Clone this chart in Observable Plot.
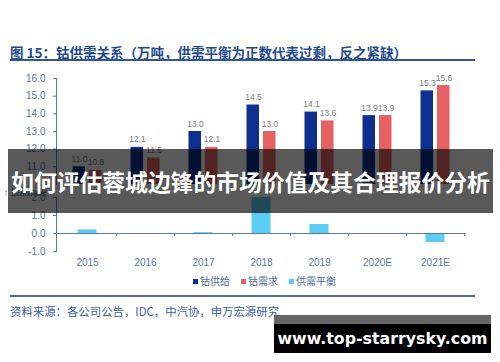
<!DOCTYPE html>
<html>
<head>
<meta charset="utf-8">
<script src="https://cdn.jsdelivr.net/npm/d3@7"></script>
<script src="https://cdn.jsdelivr.net/npm/@observablehq/plot@0.6"></script>
<style>
  html, body { margin: 0; padding: 0; background: #fff; }
  #wrap { position: relative; width: 500px; height: 362px; overflow: hidden; background: #fff;
          font-family: "Liberation Sans", "Noto Sans CJK SC", sans-serif; }
  .abs { position: absolute; }
  #title { left: 10px; top: 44px; font-family: "Noto Sans CJK SC", sans-serif; font-weight: bold;
           font-size: 13.5px; color: #1f4b8e; white-space: nowrap; line-height: 16px; }
  #rule1 { left: 10px; top: 59px; width: 465px; height: 2px; background: #2f5597; }
  #rule2 { left: 10px; top: 295px; width: 465px; height: 2px; background: #4f6b8a; }
  #source { left: 10px; top: 304px; font-family: "Noto Sans CJK SC", sans-serif; font-size: 11.4px;
            color: #3a5ca0; white-space: nowrap; line-height: 14px; }
  .leg { top: 275px; font-family: "Noto Sans CJK SC", sans-serif; font-size: 10px; color: #4d6a96;
         line-height: 12px; white-space: nowrap; display: flex; align-items: center; }
  .sw { width: 5px; height: 5px; margin-right: 2px; display: inline-block; }
  #banner { left: 8px; top: 149px; width: 485px; height: 64px; background: rgba(0,0,0,0.65);
            color: #fff; font-family: "Noto Sans CJK SC", sans-serif; font-weight: bold; font-size: 22.8px;
            display: flex; align-items: center; justify-content: center; white-space: nowrap; overflow: visible; }
  #wm1 { left: 274px; top: 315px; width: 217px; height: 10px; background: #666; }
  #wm2 { left: 274px; top: 324px; width: 217px; height: 29px; background: #000; color: #fff;
         font-family: "DejaVu Sans", sans-serif; font-weight: bold; font-size: 15.8px;
         display: flex; align-items: center; justify-content: center; white-space: nowrap; }
</style>
</head>
<body>
<div id="wrap">
  <div id="title" class="abs"></div>
  <div id="rule1" class="abs"></div>
  <div id="upper" class="abs" style="left:0;top:0"></div>
  <div id="lower" class="abs" style="left:0;top:185px"></div>
  <div id="legend"></div>
  <div id="rule2" class="abs"></div>
  <div id="source" class="abs"></div>
  <div id="banner" class="abs"></div>
  <div id="wm1" class="abs"></div>
  <div id="wm2" class="abs"></div>
</div>
<script>
const titleText = "图 15：钴供需关系（万吨，供需平衡为正数代表过剩，反之紧缺）";
const sourceText = "资料来源：各公司公告，IDC，中汽协，申万宏源研究";
const bannerText = "如何评估蓉城边锋的市场价值及其合理报价分析";
const watermarkText = "www.top-starrysky.com";

const categories = ["2015", "2016", "2017", "2018", "2019", "2020E", "2021E"];
const supply  = [11.0, 12.1, 13.0, 14.5, 14.1, 13.9, 15.3];
const demand  = [10.8, 11.5, 12.1, 13.0, 13.6, 13.9, 15.6];
const balance = [0.2, -0.05, 0.05, 2.0, 0.5, 0.0, -0.5];
const seriesNames = ["钴供给", "钴需求", "供需平衡"];
const upperTicks = [11, 12, 13, 14, 15, 16];
const lowerTicks = [-1, 0, 1, 2];

const colors = ["#0d2f8f", "#e66262", "#5ccdf5"];
const axisColor = "#5a77a6";
const labelColor = "#7a7a7a";

const rows = categories.map((c, i) => ({cat: c, supply: supply[i], demand: demand[i], balance: balance[i]}));

document.getElementById("title").textContent = titleText;
document.getElementById("source").textContent = sourceText;
document.getElementById("banner").textContent = bannerText;
document.getElementById("wm2").textContent = watermarkText;

const legendLeft = [193, 241, 289];
const legend = document.getElementById("legend");
seriesNames.forEach((n, i) => {
  const d = document.createElement("div");
  d.className = "abs leg";
  d.style.left = legendLeft[i] + "px";
  d.innerHTML = `<span class="sw" style="background:${colors[i]}"></span>${n}`;
  legend.appendChild(d);
});

const style = {fontFamily: "Liberation Sans, Arial, sans-serif", fontSize: "10px", background: "transparent", overflow: "visible"};

const upper = Plot.plot({
  width: 500, height: 184,
  marginTop: 78, marginBottom: 0, marginLeft: 56, marginRight: 35,
  style,
  x: {domain: categories, padding: 0, axis: null},
  y: {domain: [10, 16], axis: null},
  marks: [
    Plot.barY(rows, {x: "cat", y: "supply", fill: colors[0], insetLeft: 14.5, insetRight: 31, clip: true}),
    Plot.barY(rows, {x: "cat", y: "demand", fill: colors[1], insetLeft: 31, insetRight: 14.5, clip: true}),
    Plot.text(rows, {x: "cat", y: "supply", text: d => d.supply.toFixed(1), dx: -8, dy: -5, lineAnchor: "bottom", fill: labelColor, fontSize: 8.5}),
    Plot.text(rows, {x: "cat", y: "demand", text: d => d.demand.toFixed(1), dx: 8.5, dy: -5, lineAnchor: "bottom", fill: labelColor, fontSize: 8.5}),
    Plot.axisY({ticks: upperTicks, tickFormat: d => d.toFixed(1), tickSize: 3, tickPadding: 8, color: axisColor}),
    Plot.frame({anchor: "left", stroke: axisColor})
  ]
});
document.getElementById("upper").appendChild(upper);

const lower = Plot.plot({
  width: 500, height: 91,
  marginTop: 12, marginBottom: 25, marginLeft: 56, marginRight: 35,
  style,
  x: {domain: categories, padding: 0},
  y: {domain: [-1, 2], axis: null},
  marks: [
    Plot.barY(rows, {x: "cat", y: "balance", fill: colors[2], insetLeft: 19.5, insetRight: 19.5}),
    Plot.ruleY([0], {stroke: axisColor}),
    Plot.ruleX(categories, {x: d => d, y1: 0, y2: -0.17, dx: 29.2, stroke: axisColor}),
    Plot.axisY({ticks: lowerTicks, tickFormat: d => d.toFixed(1), tickSize: 3, tickPadding: 8, color: axisColor}),
    Plot.axisX({tickSize: 0, tickPadding: 7, color: axisColor, label: null}),
    Plot.frame({anchor: "left", stroke: axisColor})
  ]
});
document.getElementById("lower").appendChild(lower);
</script>
</body>
</html>
